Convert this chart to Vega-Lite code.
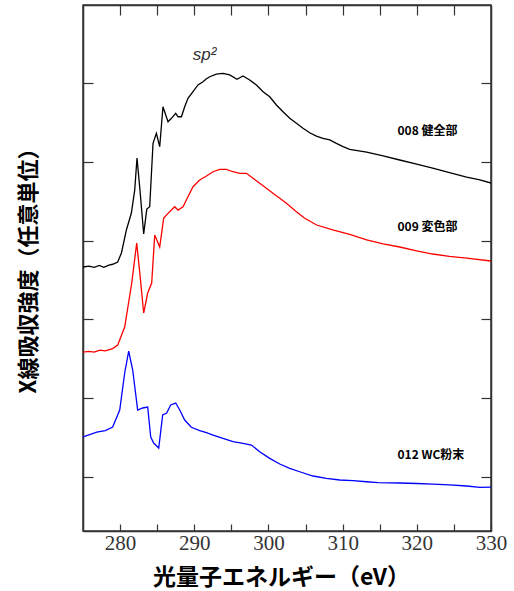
{
  "$schema": "https://vega.github.io/schema/vega-lite/v6.json",
  "width": 408,
  "height": 526,
  "autosize": "none",
  "padding": {"left": 83, "top": 5, "right": 23, "bottom": 60},
  "background": "white",
  "config": {
    "view": {"stroke": "#333", "strokeWidth": 1.5},
    "axis": {"grid": false, "domainColor": "#333", "domainWidth": 1.5, "tickColor": "#333", "tickWidth": 1.2}
  },
  "datasets": {
    "spectra": [
      {"series": "008", "x": 275.0, "y": 3.665},
      {"series": "008", "x": 275.8, "y": 3.675},
      {"series": "008", "x": 276.5, "y": 3.66},
      {"series": "008", "x": 277.2, "y": 3.685},
      {"series": "008", "x": 277.8, "y": 3.66},
      {"series": "008", "x": 278.5, "y": 3.69},
      {"series": "008", "x": 279.0, "y": 3.70},
      {"series": "008", "x": 279.68, "y": 3.728},
      {"series": "008", "x": 280.18, "y": 3.843},
      {"series": "008", "x": 280.85, "y": 4.135},
      {"series": "008", "x": 281.52, "y": 4.35},
      {"series": "008", "x": 281.97, "y": 4.64},
      {"series": "008", "x": 282.28, "y": 5.048},
      {"series": "008", "x": 282.7, "y": 4.62},
      {"series": "008", "x": 283.18, "y": 4.084},
      {"series": "008", "x": 283.6, "y": 4.40},
      {"series": "008", "x": 283.99, "y": 4.430},
      {"series": "008", "x": 284.44, "y": 5.235},
      {"series": "008", "x": 284.89, "y": 5.362},
      {"series": "008", "x": 285.34, "y": 5.192},
      {"series": "008", "x": 285.78, "y": 5.699},
      {"series": "008", "x": 286.46, "y": 5.509},
      {"series": "008", "x": 286.92, "y": 5.552},
      {"series": "008", "x": 287.50, "y": 5.616},
      {"series": "008", "x": 287.81, "y": 5.572},
      {"series": "008", "x": 288.27, "y": 5.572},
      {"series": "008", "x": 288.71, "y": 5.699},
      {"series": "008", "x": 289.15, "y": 5.806},
      {"series": "008", "x": 289.83, "y": 5.890},
      {"series": "008", "x": 290.50, "y": 5.975},
      {"series": "008", "x": 291.18, "y": 6.016},
      {"series": "008", "x": 291.6, "y": 6.05},
      {"series": "008", "x": 292.08, "y": 6.080},
      {"series": "008", "x": 292.98, "y": 6.114},
      {"series": "008", "x": 293.87, "y": 6.123},
      {"series": "008", "x": 294.78, "y": 6.102},
      {"series": "008", "x": 295.76, "y": 6.047},
      {"series": "008", "x": 296.57, "y": 6.089},
      {"series": "008", "x": 297.47, "y": 6.038},
      {"series": "008", "x": 298.38, "y": 5.975},
      {"series": "008", "x": 299.27, "y": 5.890},
      {"series": "008", "x": 300.17, "y": 5.826},
      {"series": "008", "x": 301.07, "y": 5.721},
      {"series": "008", "x": 301.96, "y": 5.636},
      {"series": "008", "x": 302.87, "y": 5.552},
      {"series": "008", "x": 303.77, "y": 5.489},
      {"series": "008", "x": 304.66, "y": 5.425},
      {"series": "008", "x": 305.56, "y": 5.369},
      {"series": "008", "x": 306.46, "y": 5.327},
      {"series": "008", "x": 307.35, "y": 5.298},
      {"series": "008", "x": 308.26, "y": 5.277},
      {"series": "008", "x": 309.16, "y": 5.235},
      {"series": "008", "x": 310.05, "y": 5.192},
      {"series": "008", "x": 310.95, "y": 5.159},
      {"series": "008", "x": 313.24, "y": 5.124},
      {"series": "008", "x": 315.46, "y": 5.074},
      {"series": "008", "x": 317.69, "y": 5.023},
      {"series": "008", "x": 319.98, "y": 4.97},
      {"series": "008", "x": 322.14, "y": 4.921},
      {"series": "008", "x": 324.4, "y": 4.864},
      {"series": "008", "x": 326.72, "y": 4.807},
      {"series": "008", "x": 328.5, "y": 4.77},
      {"series": "008", "x": 330.0, "y": 4.731},
      {"series": "009", "x": 275.0, "y": 2.586},
      {"series": "009", "x": 275.8, "y": 2.595},
      {"series": "009", "x": 276.5, "y": 2.585},
      {"series": "009", "x": 277.3, "y": 2.61},
      {"series": "009", "x": 278.0, "y": 2.60},
      {"series": "009", "x": 279.0, "y": 2.63},
      {"series": "009", "x": 279.68, "y": 2.675},
      {"series": "009", "x": 280.62, "y": 2.904},
      {"series": "009", "x": 281.57, "y": 3.462},
      {"series": "009", "x": 282.24, "y": 3.970},
      {"series": "009", "x": 282.7, "y": 3.55},
      {"series": "009", "x": 283.18, "y": 3.081},
      {"series": "009", "x": 283.72, "y": 3.335},
      {"series": "009", "x": 284.26, "y": 3.462},
      {"series": "009", "x": 284.67, "y": 4.071},
      {"series": "009", "x": 285.34, "y": 3.919},
      {"series": "009", "x": 285.88, "y": 4.287},
      {"series": "009", "x": 286.46, "y": 4.346},
      {"series": "009", "x": 287.36, "y": 4.430},
      {"series": "009", "x": 287.81, "y": 4.388},
      {"series": "009", "x": 288.48, "y": 4.430},
      {"series": "009", "x": 289.15, "y": 4.557},
      {"series": "009", "x": 289.83, "y": 4.684},
      {"series": "009", "x": 290.73, "y": 4.769},
      {"series": "009", "x": 291.64, "y": 4.820},
      {"series": "009", "x": 292.53, "y": 4.874},
      {"series": "009", "x": 293.43, "y": 4.905},
      {"series": "009", "x": 294.33, "y": 4.905},
      {"series": "009", "x": 295.22, "y": 4.874},
      {"series": "009", "x": 296.12, "y": 4.854},
      {"series": "009", "x": 297.03, "y": 4.854},
      {"series": "009", "x": 297.92, "y": 4.791},
      {"series": "009", "x": 298.82, "y": 4.727},
      {"series": "009", "x": 299.72, "y": 4.664},
      {"series": "009", "x": 300.61, "y": 4.600},
      {"series": "009", "x": 301.52, "y": 4.537},
      {"series": "009", "x": 302.42, "y": 4.473},
      {"series": "009", "x": 303.77, "y": 4.367},
      {"series": "009", "x": 304.89, "y": 4.283},
      {"series": "009", "x": 306.50, "y": 4.198},
      {"series": "009", "x": 308.66, "y": 4.135},
      {"series": "009", "x": 310.95, "y": 4.08},
      {"series": "009", "x": 313.24, "y": 4.008},
      {"series": "009", "x": 315.46, "y": 3.96},
      {"series": "009", "x": 317.69, "y": 3.919},
      {"series": "009", "x": 319.98, "y": 3.87},
      {"series": "009", "x": 322.14, "y": 3.830},
      {"series": "009", "x": 324.4, "y": 3.80},
      {"series": "009", "x": 326.72, "y": 3.779},
      {"series": "009", "x": 330.0, "y": 3.741},
      {"series": "012", "x": 275.0, "y": 1.508},
      {"series": "012", "x": 276.85, "y": 1.571},
      {"series": "012", "x": 278.0, "y": 1.59},
      {"series": "012", "x": 279.0, "y": 1.635},
      {"series": "012", "x": 279.95, "y": 1.850},
      {"series": "012", "x": 280.62, "y": 2.320},
      {"series": "012", "x": 281.16, "y": 2.599},
      {"series": "012", "x": 281.70, "y": 2.358},
      {"series": "012", "x": 282.37, "y": 1.850},
      {"series": "012", "x": 283.05, "y": 1.876},
      {"series": "012", "x": 283.72, "y": 1.888},
      {"series": "012", "x": 284.13, "y": 1.508},
      {"series": "012", "x": 284.53, "y": 1.431},
      {"series": "012", "x": 285.21, "y": 1.368},
      {"series": "012", "x": 285.74, "y": 1.787},
      {"series": "012", "x": 286.28, "y": 1.812},
      {"series": "012", "x": 286.82, "y": 1.914},
      {"series": "012", "x": 287.50, "y": 1.939},
      {"series": "012", "x": 288.04, "y": 1.850},
      {"series": "012", "x": 288.71, "y": 1.723},
      {"series": "012", "x": 289.61, "y": 1.631},
      {"series": "012", "x": 290.73, "y": 1.588},
      {"series": "012", "x": 291.64, "y": 1.562},
      {"series": "012", "x": 292.53, "y": 1.533},
      {"series": "012", "x": 293.87, "y": 1.491},
      {"series": "012", "x": 295.22, "y": 1.448},
      {"series": "012", "x": 296.57, "y": 1.428},
      {"series": "012", "x": 297.70, "y": 1.406},
      {"series": "012", "x": 298.82, "y": 1.321},
      {"series": "012", "x": 300.17, "y": 1.237},
      {"series": "012", "x": 301.52, "y": 1.165},
      {"series": "012", "x": 302.87, "y": 1.110},
      {"series": "012", "x": 304.21, "y": 1.067},
      {"series": "012", "x": 306.01, "y": 1.013},
      {"series": "012", "x": 307.81, "y": 0.984},
      {"series": "012", "x": 309.61, "y": 0.962},
      {"series": "012", "x": 311.40, "y": 0.953},
      {"series": "012", "x": 313.20, "y": 0.940},
      {"series": "012", "x": 314.77, "y": 0.928},
      {"series": "012", "x": 317.69, "y": 0.924},
      {"series": "012", "x": 320.0, "y": 0.918},
      {"series": "012", "x": 322.14, "y": 0.911},
      {"series": "012", "x": 324.4, "y": 0.90},
      {"series": "012", "x": 326.72, "y": 0.886},
      {"series": "012", "x": 328.5, "y": 0.868},
      {"series": "012", "x": 330.0, "y": 0.873}
    ],
    "labels": [
      {"text": "008 健全部", "x": 317.4, "y": 5.391},
      {"text": "009 変色部", "x": 317.4, "y": 4.173},
      {"text": "012 WC粉末", "x": 317.4, "y": 1.279}
    ],
    "notes": [
      {"text": "sp²", "x": 291.4, "y": 6.355}
    ]
  },
  "resolve": {"axis": {"x": "independent", "y": "independent"}},
  "layer": [
    {
      "data": {"name": "spectra"},
      "mark": {"type": "line", "strokeWidth": 1.3, "clip": true},
      "encoding": {
        "x": {
          "field": "x", "type": "quantitative",
          "scale": {"domain": [275, 330], "nice": false, "zero": false},
          "axis": {
            "orient": "bottom",
            "values": [280, 285, 290, 295, 300, 305, 310, 315, 320, 325, 330],
            "labelExpr": "datum.value % 10 == 0 ? datum.label : ''",
            "tickSize": -7,
            "labelPadding": 8,
            "labelFont": "Liberation Serif",
            "labelFontSize": 21,
            "labelColor": "#333",
            "labelFlush": false,
            "title": "光量子エネルギー（eV）",
            "titleFont": "Noto Sans CJK JP",
            "titleFontWeight": "bold",
            "titleFontSize": 23,
            "titleColor": "#000",
            "titleX": 198,
            "titleY": 46,
            "titleBaseline": "middle",
            "titleAlign": "center"
          }
        },
        "y": {
          "field": "y", "type": "quantitative",
          "scale": {"domain": [0.315, 6.99], "nice": false, "zero": false},
          "axis": {
            "orient": "left",
            "values": [1, 2, 3, 4, 5, 6],
            "labels": false,
            "tickSize": -10,
            "title": "X線吸収強度（任意単位）",
            "titleFont": "Noto Sans CJK JP",
            "titleFontWeight": "bold",
            "titleFontSize": 22,
            "titleColor": "#000",
            "titleX": -55,
            "titleY": 260,
            "titleBaseline": "middle",
            "titleAlign": "center",
            "titleAngle": -90
          }
        },
        "color": {
          "field": "series", "type": "nominal",
          "scale": {"domain": ["008", "009", "012"], "range": ["#000000", "#ff0000", "#0000ff"]},
          "legend": null
        }
      }
    },
    {
      "data": {"name": "labels"},
      "mark": {"type": "text", "align": "left", "baseline": "middle", "font": "Noto Sans CJK JP", "fontWeight": "bold", "fontSize": 12, "color": "#000"},
      "encoding": {
        "x": {"field": "x", "type": "quantitative", "axis": null},
        "y": {"field": "y", "type": "quantitative", "axis": null},
        "text": {"field": "text"}
      }
    },
    {
      "data": {"name": "notes"},
      "mark": {"type": "text", "align": "center", "baseline": "middle", "font": "Liberation Sans", "fontStyle": "italic", "fontSize": 17, "color": "#333"},
      "encoding": {
        "x": {
          "field": "x", "type": "quantitative",
          "axis": {
            "orient": "top",
            "values": [280, 285, 290, 295, 300, 305, 310, 315, 320, 325],
            "labels": false,
            "tickSize": -10,
            "title": null
          }
        },
        "y": {
          "field": "y", "type": "quantitative",
          "axis": {
            "orient": "right",
            "values": [1, 2, 3, 4, 5, 6],
            "labels": false,
            "tickSize": -10,
            "title": null
          }
        },
        "text": {"field": "text"}
      }
    }
  ]
}
